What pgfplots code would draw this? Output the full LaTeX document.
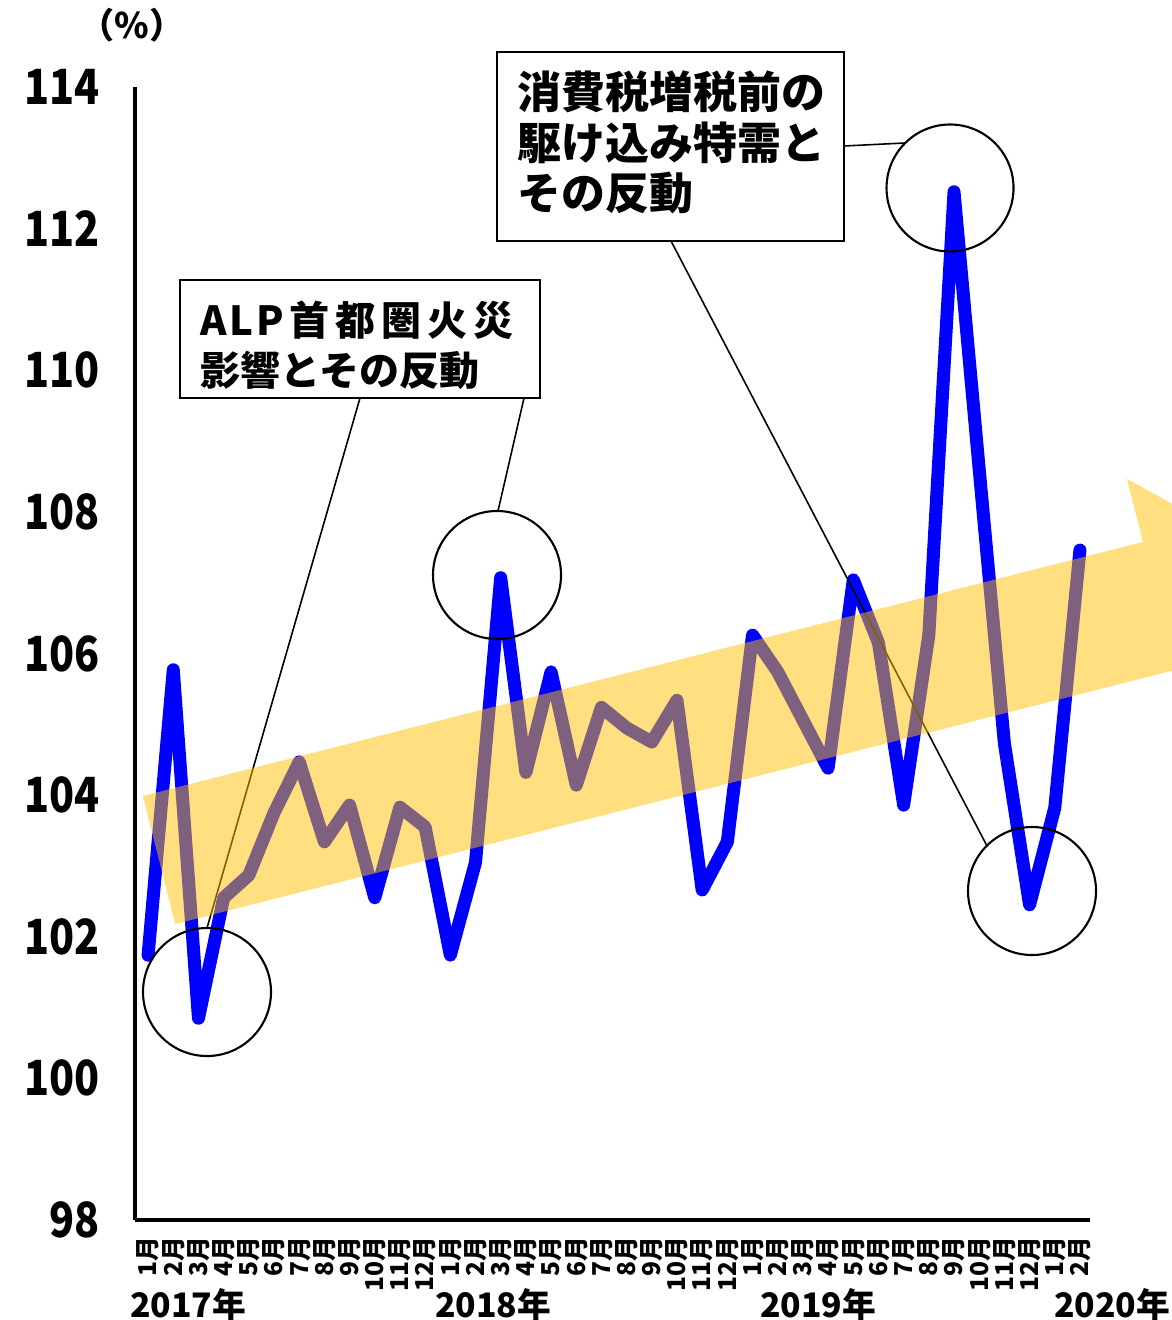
\documentclass[border=0pt]{standalone}
\usepackage{fontspec}
\setmainfont{Noto Sans CJK JP}
\usepackage{pgfplots}
\pgfplotsset{compat=1.18}
\definecolor{kiiro}{RGB}{255,192,0}

\begin{document}
\begin{tikzpicture}
\begin{axis}[
  at={(13.5mm,-122mm)}, anchor=south west,
  scale only axis, width=95.5mm, height=113.3mm,
  xmin=-0.52, xmax=37.4, ymin=98, ymax=114,
  axis lines*=left,
  axis line style={line width=1.1pt},
  major tick length=0pt,
  ytick={98,100,...,114},
  xtick={0,...,37},
  xticklabels={1月,2月,3月,4月,5月,6月,7月,8月,9月,10月,11月,12月,
                1月,2月,3月,4月,5月,6月,7月,8月,9月,10月,11月,12月,
                1月,2月,3月,4月,5月,6月,7月,8月,9月,10月,11月,12月,
                1月,2月},
  /pgf/number format/assume math mode=true,
  yticklabel style={font=\bfseries\fontsize{13.8}{14}\selectfont, inner sep=0pt, xscale=0.85},
  yticklabel shift=3.5mm,
  xticklabel style={font=\bfseries\fontsize{7}{8}\selectfont, rotate=90, anchor=east, inner sep=0pt},
  xticklabel shift=1.6mm,
  clip=false,
]
\addplot[blue, line width=3.7pt, line join=round, line cap=round] coordinates {
  (0,101.74) (1,105.77) (2,100.85) (3,102.55) (4,102.87) (5,103.75)
  (6,104.47) (7,103.34) (8,103.86) (9,102.55) (10,103.83) (11,103.55)
  (12,101.74) (13,103.05) (14,107.07) (15,104.32) (16,105.74) (17,104.14)
  (18,105.24) (19,104.95) (20,104.75) (21,105.34) (22,102.66) (23,103.34)
  (24,106.26) (25,105.74) (26,105.06) (27,104.38) (28,107.04) (29,106.15)
  (30,103.86) (31,106.26) (32,112.52) (33,108.6) (34,104.73) (35,102.45)
  (36,103.82) (37,107.46)
};
\end{axis}

% annotations, in pixel units of the reference (origin top left)
\begin{scope}[x=0.1mm, y=-0.1mm]
  % callout lines
  \draw[line width=0.45pt] (360,398) -- (207,928);
  \draw[line width=0.45pt] (524,398) -- (498,511);
  \draw[line width=0.45pt] (844,146) -- (905,143);
  \draw[line width=0.45pt] (671,241) -- (987,846);
  % circles
  \draw[line width=0.6pt] (207,992) circle[radius=6.4mm];
  \draw[line width=0.6pt] (497,575) circle[radius=6.4mm];
  \draw[line width=0.6pt] (950,188) circle[radius=6.35mm];
  \draw[line width=0.6pt] (1032,891) circle[radius=6.4mm];
  % boxes
  \draw[line width=0.6pt, fill=white] (180,280) rectangle (540,398);
  \draw[line width=0.6pt, fill=white] (497,52) rectangle (844,241);
  \begin{scope}[every node/.style={anchor=base west, inner sep=0pt}]
    \node[font=\bfseries\fontsize{11.4}{14}\selectfont] at (200,335)
      {A\kern0.25mm L\kern0.25mm P\kern0.6mm 首\kern0.6mm 都\kern0.6mm 圏\kern0.6mm 火\kern0.6mm 災};
    \node[font=\bfseries\fontsize{11.4}{14}\selectfont] at (200,385) {影響とその反動};
    \node[font=\bfseries\fontsize{12.5}{14}\selectfont] at (517,109) {消費税増税前の};
    \node[font=\bfseries\fontsize{12.5}{14}\selectfont] at (517,160) {駆け込み特需と};
    \node[font=\bfseries\fontsize{12.5}{14}\selectfont] at (517,210) {その反動};
  \end{scope}
  % trend arrow
  \fill[kiiro, fill opacity=0.5]
    (142.8,796) -- (1143,541.9) -- (1126.9,478.9) -- (1294.9,571.5)
    -- (1191.5,732.9) -- (1175.4,669.9) -- (175.2,924) -- cycle;
  % unit and years
  \node[font=\bfseries\fontsize{10}{12}\selectfont] at (132,25) {（\%）};
  \begin{scope}[every node/.style={font=\bfseries\fontsize{9.6}{12}\selectfont, inner sep=0pt}]
    \node at (188,1305) {2017年};
    \node at (493,1305) {2018年};
    \node at (818,1305) {2019年};
    \node at (1112,1305) {2020年};
  \end{scope}
\end{scope}
\pgfresetboundingbox
\useasboundingbox (0,0) rectangle (117.1mm,-132mm);
\end{tikzpicture}
\end{document}
